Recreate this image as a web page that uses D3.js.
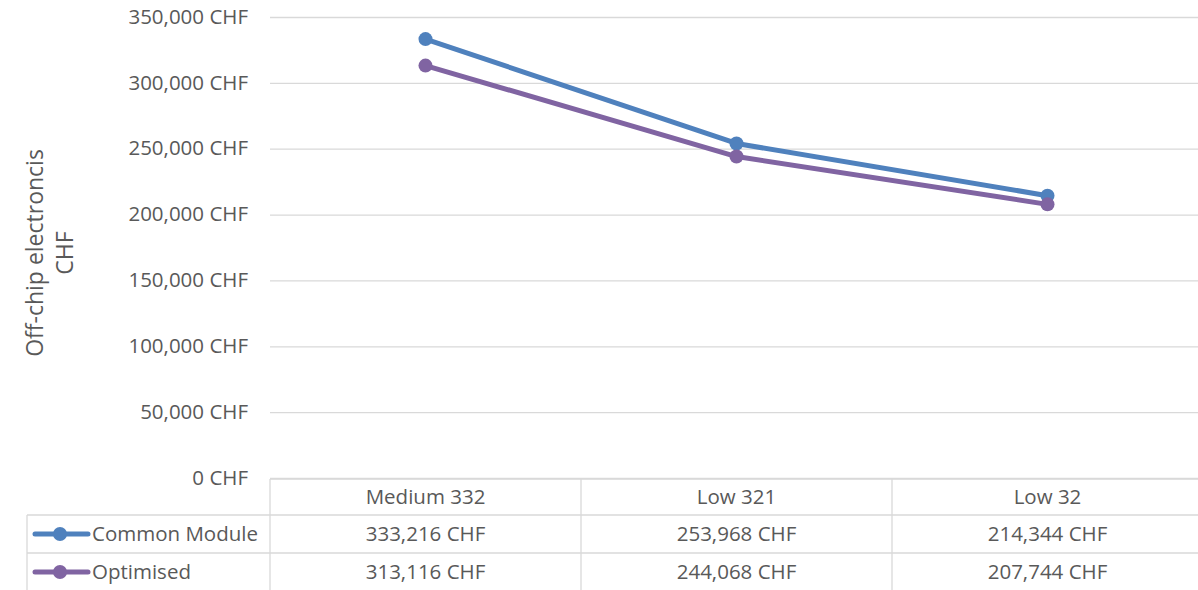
<!DOCTYPE html>
<html>
<head>
<meta charset="utf-8">
<script src="https://cdn.jsdelivr.net/npm/d3@7"></script>
<style>
  body { margin: 0; background: #fff; }
  svg { display: block; font-family: "Open Sans", sans-serif; }
  .tick text, .lbl { fill: #595959; font-family: "Open Sans", sans-serif; }
</style>
</head>
<body>
<svg></svg>
<script>
let categories = ['Medium 332', 'Low 321', 'Low 32']
let seriesNames = ['Common Module', 'Optimised']
let commonModule = [333216, 253968, 214344]
let optimised = [313116, 244068, 207744]
let yTicks = [0, 50000, 100000, 150000, 200000, 250000, 300000, 350000]
let colors = ['#4f81bd', '#8064a2']

let W = 1198, H = 590
let margin = { top: 17, left: 270, right: -5, bottom: 112 }
let plotW = W - margin.left - margin.right
let plotH = H - margin.top - margin.bottom
let fontSize = 20.5

let svg = d3.select('svg').attr('width', W).attr('height', H)
let chart = svg.append('g').attr('transform', 'translate(' + margin.left + ',' + margin.top + ')')

let x = d3.scaleBand().domain(categories).range([0, plotW])
let y = d3.scaleLinear().domain([0, 350000]).range([plotH, 0])
let fmt = d3.format(',')

// gridlines + y labels
let yAxis = chart.append('g').attr('class', 'axis y')
  .call(d3.axisLeft(y).tickValues(yTicks).tickSize(-plotW).tickPadding(22)
    .tickFormat(d => fmt(d) + ' CHF'))
yAxis.attr('font-family', null).attr('font-size', null)
yAxis.select('.domain').remove()
yAxis.selectAll('.tick line').attr('stroke', '#d9d9d9').attr('stroke-width', 1.3)
yAxis.selectAll('.tick text').attr('font-size', fontSize).attr('dy', '0.3em')

// axis title
let titleG = svg.append('g').attr('transform', 'translate(35,253) rotate(-90)')
titleG.append('text').attr('class', 'lbl').attr('text-anchor', 'middle').attr('font-size', 23)
  .attr('y', 8).text('Off-chip electroncis')
titleG.append('text').attr('class', 'lbl').attr('text-anchor', 'middle').attr('font-size', 23)
  .attr('y', 38).text('CHF')

// lines
let series = [commonModule, optimised]
let line = d3.line().x((d, i) => x(categories[i]) + x.bandwidth() / 2).y(d => y(d))
series.forEach((vals, s) => {
  chart.append('path').datum(vals)
    .attr('d', line).attr('fill', 'none')
    .attr('stroke', colors[s]).attr('stroke-width', 5).attr('stroke-linejoin', 'round')
  chart.selectAll('.pt' + s).data(vals).enter().append('circle')
    .attr('cx', (d, i) => x(categories[i]) + x.bandwidth() / 2)
    .attr('cy', d => y(d)).attr('r', 7).attr('fill', colors[s])
})

// data table
let grid = '#d9d9d9'
let rowTop = margin.top + plotH + 1
let rowHs = [36, 38, 38]
let rowYs = [rowTop, rowTop + rowHs[0], rowTop + rowHs[0] + rowHs[1], rowTop + rowHs[0] + rowHs[1] + rowHs[2]]
let tableLeft = 27
let tbl = svg.append('g')

tbl.append('line').attr('x1', margin.left).attr('x2', W).attr('y1', rowYs[0]).attr('y2', rowYs[0]).attr('stroke', grid).attr('stroke-width', 1.3)
tbl.append('line').attr('x1', tableLeft).attr('x2', W).attr('y1', rowYs[1]).attr('y2', rowYs[1]).attr('stroke', grid).attr('stroke-width', 1.3)
tbl.append('line').attr('x1', tableLeft).attr('x2', W).attr('y1', rowYs[2]).attr('y2', rowYs[2]).attr('stroke', grid).attr('stroke-width', 1.3)
tbl.append('line').attr('x1', tableLeft).attr('x2', tableLeft).attr('y1', rowYs[1]).attr('y2', H).attr('stroke', grid).attr('stroke-width', 1.3)
categories.forEach(c => {
  let xx = margin.left + x(c)
  tbl.append('line').attr('x1', xx).attr('x2', xx).attr('y1', rowYs[0]).attr('y2', H).attr('stroke', grid).attr('stroke-width', 1.3)
  tbl.append('text').attr('class', 'lbl').attr('text-anchor', 'middle').attr('font-size', fontSize)
    .attr('x', xx + x.bandwidth() / 2).attr('y', (rowYs[0] + rowYs[1]) / 2 + 7).text(c)
})

series.forEach((vals, s) => {
  let cy = (rowYs[s + 1] + rowYs[s + 2]) / 2
  tbl.append('line').attr('x1', 35).attr('x2', 88).attr('y1', cy).attr('y2', cy)
    .attr('stroke', colors[s]).attr('stroke-width', 5).attr('stroke-linecap', 'round')
  tbl.append('circle').attr('cx', 60).attr('cy', cy).attr('r', 7).attr('fill', colors[s])
  tbl.append('text').attr('class', 'lbl').attr('font-size', fontSize)
    .attr('x', 92).attr('y', cy + 7).text(seriesNames[s])
  vals.forEach((v, i) => {
    tbl.append('text').attr('class', 'lbl').attr('text-anchor', 'middle').attr('font-size', fontSize)
      .attr('x', margin.left + x(categories[i]) + x.bandwidth() / 2).attr('y', cy + 7)
      .text(fmt(v) + ' CHF')
  })
})
</script>
</body>
</html>
